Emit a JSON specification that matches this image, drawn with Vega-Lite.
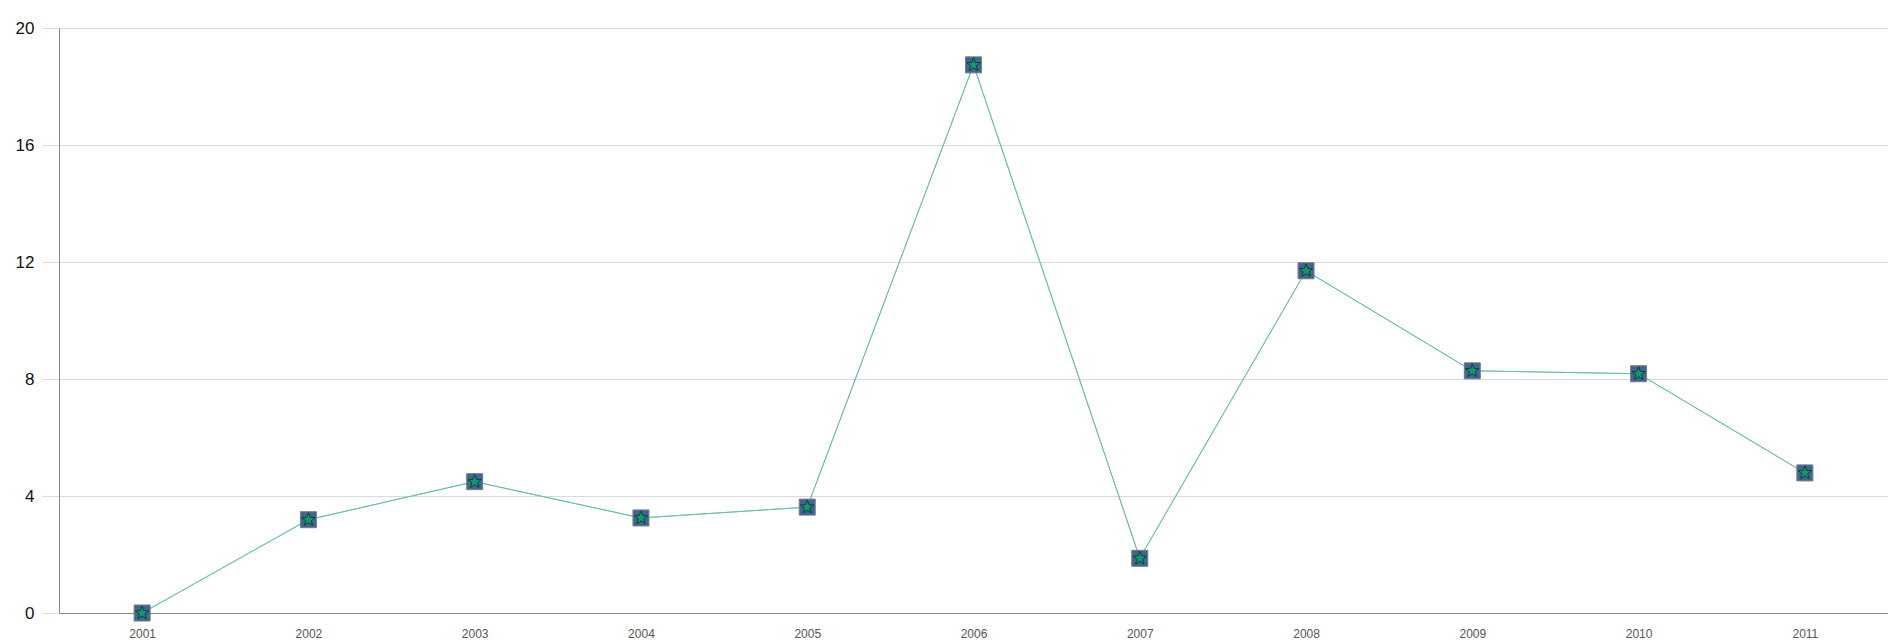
{
  "$schema": "https://vega.github.io/schema/vega-lite/v6.json",
  "width": 1888,
  "height": 641,
  "autosize": {"type": "fit", "contains": "padding"},
  "padding": {"left": 0, "top": 19, "right": 0, "bottom": 2},
  "background": "white",
  "config": {"view": {"stroke": null}, "font": "Liberation Sans"},
  "data": {
    "values": [
      {"year": "2001", "series": "EC Budget", "value": 0},
      {"year": "2002", "series": "EC Budget", "value": 3.19},
      {"year": "2003", "series": "EC Budget", "value": 4.49},
      {"year": "2004", "series": "EC Budget", "value": 3.25},
      {"year": "2005", "series": "EC Budget", "value": 3.62},
      {"year": "2006", "series": "EC Budget", "value": 18.74},
      {"year": "2007", "series": "EC Budget", "value": 1.87},
      {"year": "2008", "series": "EC Budget", "value": 11.7},
      {"year": "2009", "series": "EC Budget", "value": 8.28},
      {"year": "2010", "series": "EC Budget", "value": 8.18},
      {"year": "2011", "series": "EC Budget", "value": 4.79},
      {"year": "2001", "series": "Total (EDF+Budget)", "value": 0},
      {"year": "2002", "series": "Total (EDF+Budget)", "value": 3.19},
      {"year": "2003", "series": "Total (EDF+Budget)", "value": 4.49},
      {"year": "2004", "series": "Total (EDF+Budget)", "value": 3.25},
      {"year": "2005", "series": "Total (EDF+Budget)", "value": 3.62},
      {"year": "2006", "series": "Total (EDF+Budget)", "value": 18.74},
      {"year": "2007", "series": "Total (EDF+Budget)", "value": 1.87},
      {"year": "2008", "series": "Total (EDF+Budget)", "value": 11.7},
      {"year": "2009", "series": "Total (EDF+Budget)", "value": 8.28},
      {"year": "2010", "series": "Total (EDF+Budget)", "value": 8.18},
      {"year": "2011", "series": "Total (EDF+Budget)", "value": 4.79}
    ]
  },
  "layer": [
    {
      "mark": {"type": "line", "strokeWidth": 1},
      "encoding": {
        "x": {
          "field": "year",
          "type": "ordinal",
          "scale": {"type": "point", "padding": 0.5},
          "axis": {
            "orient": "bottom",
            "title": null,
            "labelAngle": 0,
            "ticks": false,
            "grid": false,
            "domainColor": "#888888",
            "labelFontSize": 12,
            "labelColor": "#555555",
            "labelPadding": 15
          }
        },
        "y": {
          "field": "value",
          "type": "quantitative",
          "scale": {"domain": [0, 20], "nice": false, "zero": true},
          "axis": {
            "title": null,
            "values": [0, 4, 8, 12, 16, 20],
            "grid": true,
            "gridColor": "#d9d9e6",
            "domainColor": "#888888",
            "tickColor": "#d9d9e6",
            "tickSize": 17,
            "labelFontSize": 17,
            "labelColor": "#111111",
            "labelPadding": 8,
            "minExtent": 59,
            "maxExtent": 59
          }
        },
        "color": {
          "field": "series",
          "type": "nominal",
          "scale": {"domain": ["EC Budget", "EDF", "Total (EDF+Budget)"], "range": ["#9fb5cc", "#f5c89a", "#5ec6a4"]},
          "legend": null
        }
      }
    },
    {
      "mark": {"type": "point", "filled": true, "opacity": 1, "strokeWidth": 1},
      "encoding": {
        "x": {"field": "year", "type": "ordinal"},
        "y": {"field": "value", "type": "quantitative"},
        "fill": {
          "field": "series",
          "type": "nominal",
          "scale": {"domain": ["EC Budget", "EDF", "Total (EDF+Budget)"], "range": ["#3b6797", "#f1a04f", "#0a9b72"]},
          "legend": {
            "title": null,
            "orient": "bottom",
            "direction": "horizontal",
            "gridAlign": "all",
            "columnPadding": 0,
            "offset": 14,
            "labelFontSize": 18,
            "labelColor": "#000000",
            "labelOffset": 6,
            "symbolSize": 220,
            "symbolStrokeWidth": 1,
            "symbolStrokeColor": "#666666"
          }
        },
        "shape": {
          "field": "series",
          "type": "nominal",
          "scale": {"domain": ["EC Budget", "EDF", "Total (EDF+Budget)"], "range": ["square", "diamond", "M0,-1L0.247,-0.34L0.951,-0.309L0.399,0.13L0.588,0.809L0,0.42L-0.588,0.809L-0.399,0.13L-0.951,-0.309L-0.247,-0.34Z"]}
        },
        "stroke": {
          "field": "series",
          "type": "nominal",
          "scale": {"domain": ["EC Budget", "EDF", "Total (EDF+Budget)"], "range": ["#7a7a7a", "#b07030", "#1b3a33"]},
          "legend": null
        },
        "size": {
          "field": "series",
          "type": "nominal",
          "scale": {"domain": ["EC Budget", "EDF", "Total (EDF+Budget)"], "range": [256, 200, 240]},
          "legend": null
        }
      }
    }
  ]
}
